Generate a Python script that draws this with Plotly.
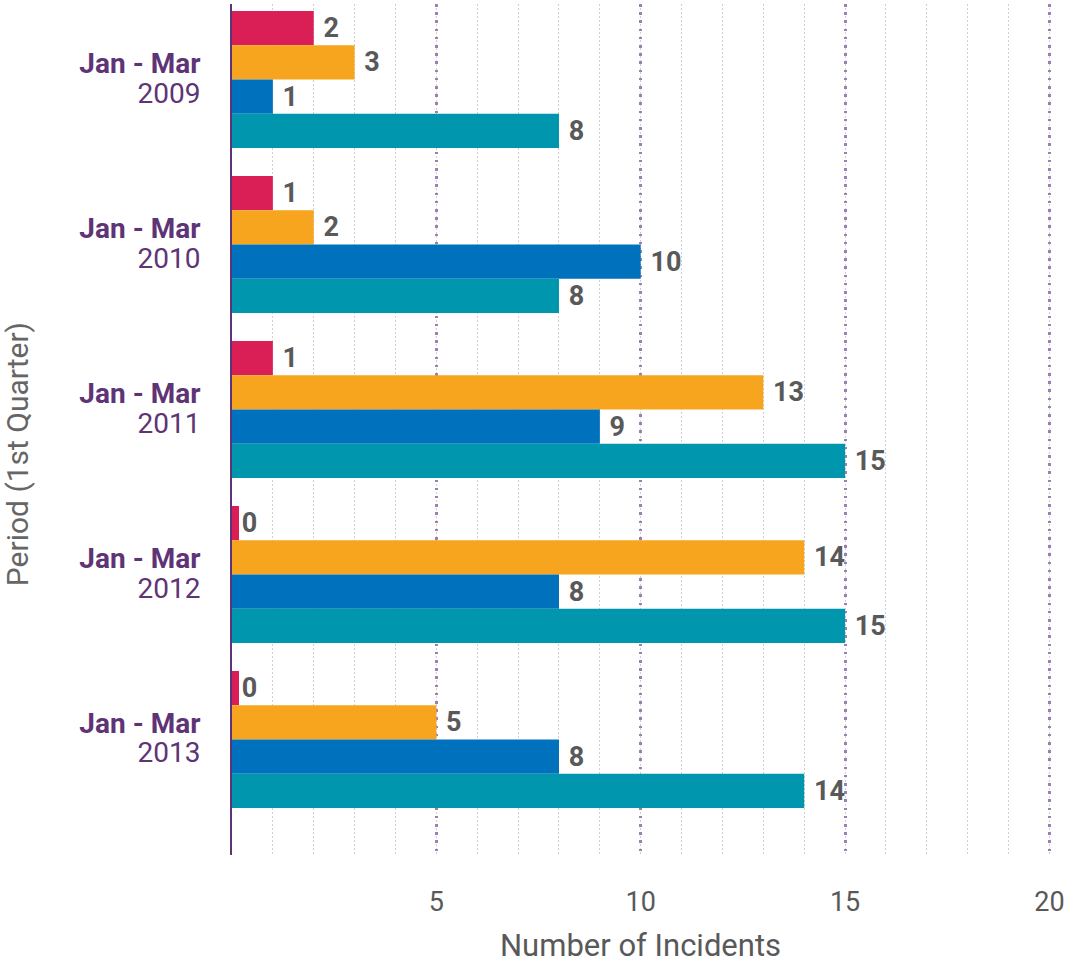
import plotly.graph_objects as go

# Quarterly incident counts, one list per incident type
periods = ["2009", "2010", "2011", "2012", "2013"]
series_a = [2, 1, 1, 0, 0]
series_b = [3, 2, 13, 14, 5]
series_c = [1, 10, 9, 8, 8]
series_d = [8, 8, 15, 15, 14]

colors = ["#DA1F56", "#F7A51E", "#0071BC", "#0097AE"]
x_ticks = [5, 10, 15, 20]

PURPLE = "#5E3476"
GREY = "#595959"

fig = go.Figure()
for vals, col in zip([series_a, series_b, series_c, series_d], colors):
    # zero counts get a short outline stub so they remain visible
    lw = [14 if v == 0 else 0 for v in vals]
    fig.add_trace(go.Bar(
        y=periods, x=vals, orientation="h",
        marker=dict(color=col, line=dict(color=col, width=lw)),
        text=[f"\u00a0{v}" for v in vals],
        textposition="outside",
        textfont=dict(family="Roboto", size=27, color=GREY, weight="bold"),
        cliponaxis=False,
        hoverinfo="x+y",
        showlegend=False,
    ))

fig.update_layout(
    width=1065, height=963,
    margin=dict(l=232, r=0, t=4, b=108),
    plot_bgcolor="white", paper_bgcolor="white",
    barmode="group", bargap=0.17, bargroupgap=0,
    font=dict(family="Roboto", color=GREY),
)

fig.update_xaxes(
    range=[0, 20.38],
    tickmode="array", tickvals=x_ticks, ticktext=[str(t) for t in x_ticks],
    tickfont=dict(family="Roboto", size=27, color=GREY),
    ticks="", ticklabelstandoff=28,
    showgrid=True, gridcolor="#9C80B5", gridwidth=2.5, griddash="2.5px,5.7px",
    minor=dict(tickmode="linear", tick0=0, dtick=1, showgrid=True,
               gridcolor="#CFCFCF", gridwidth=1, griddash="1.5px,2.5px"),
    zeroline=False, showline=False,
)

# tight two-line period labels: small base size sets the line spacing
big = "<span style='font-size:28px'>{}</span>"
fig.update_yaxes(
    type="category",
    categoryorder="array", categoryarray=periods,
    range=[4.70, -0.458],
    tickmode="array", tickvals=periods,
    ticktext=[big.format("<b>Jan - Mar</b>") + "<br>" + big.format(p) for p in periods],
    tickfont=dict(family="Roboto", size=23, color=PURPLE),
    ticks="", ticklabelstandoff=25,
    showgrid=False, zeroline=False,
    showline=True, linecolor=PURPLE, linewidth=2,
)

fig.add_annotation(
    text="Period (1st Quarter)", textangle=-90,
    xref="paper", yref="paper", x=0, y=0.471,
    xanchor="center", yanchor="middle", xshift=-215,
    showarrow=False,
    font=dict(family="Roboto", size=30, color="#666666"),
)
fig.add_annotation(
    text="Number of Incidents",
    xref="x", yref="paper", x=10, y=0,
    xanchor="center", yanchor="middle", yshift=-90,
    showarrow=False,
    font=dict(family="Roboto", size=31, color=GREY),
)

fig.write_html("out.html")
